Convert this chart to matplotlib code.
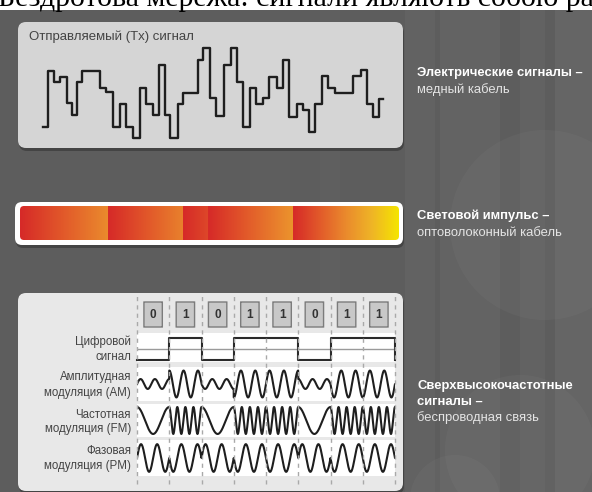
import numpy as np
import matplotlib

matplotlib.use("Agg")
import matplotlib.pyplot as plt
from matplotlib.patches import FancyBboxPatch, Rectangle, Circle
from matplotlib.colors import LinearSegmentedColormap

plt.rcParams["font.family"] = ["Liberation Sans", "DejaVu Sans"]

W, H = 592, 492

# =========================
# Data
# =========================
TITLE = "Бездротова мережа: сигнали являють собою ра"
TX_LABEL = "Отправляемый (Tx) сигнал"

# copper signal: start time of each step and its level
TX_TIMES = [0, 5, 11, 17, 24, 29, 34, 39, 57, 63,
            70, 77, 83, 90, 97, 103, 110, 116, 122, 127,
            135, 140, 155, 160, 167, 173, 181, 188, 194, 200,
            207, 213, 220, 226, 234, 240, 246, 254, 260, 266,
            272, 279, 285, 292, 310, 318, 324, 330, 336]
TX_LEVELS = [11, 67, 56, 61, 35, 23, 56, 67, 50, 46,
             11, 34, 11, 0, 50, 34, 23, 73, 23, 0,
             34, 45, 78, 90, 40, 22, 73, 90, 56, 11,
             50, 34, 40, 61, 50, 78, 21, 34, 28, 6,
             34, 62, 50, 45, 62, 68, 34, 21, 39]
TX_END = 340

# fibre: pulse boundaries along the bar and intensity reached at the end of each pulse
PULSE_EDGES = [0, 88, 163, 188, 273, 379]
PULSE_PEAK = [0.5, 0.45, 0.15, 0.55, 1.0]

# wireless
BITS = [0, 1, 0, 1, 1, 0, 1, 1]
AM_AMPL = {0: 0.35, 1: 0.95}
AM_CYCLES = 2.25
FM_CYCLES = {0: 1, 1: 4}
PM_CYCLES = 2

ROW_LABELS = [
    ("Цифровой", "сигнал"),
    ("Амплитудная", "модуляция (AM)"),
    ("Частотная", "модуляция (FM)"),
    ("Фазовая", "модуляция (PM)"),
]
SIDE_LABELS = [
    (["Электрические сигналы –"], "медный кабель"),
    (["Световой импульс –"], "оптоволоконный кабель"),
    (["Сверхвысокочастотные", "сигналы –"], "беспроводная связь"),
]


def px_axes(fig, x0, y0, x1, y1):
    return fig.add_axes([x0 / W, 1 - y1 / H, (x1 - x0) / W, (y1 - y0) / H])


def panel(ax, x0, y0, x1, y1, color, r=8, shadow=True):
    if shadow:
        ax.add_patch(FancyBboxPatch((x0 + 1, y0 + 3), x1 - x0, y1 - y0,
                                    boxstyle=f"round,pad=0,rounding_size={r}",
                                    fc="#262626", ec="none", alpha=0.45))
    p = FancyBboxPatch((x0, y0), x1 - x0, y1 - y0,
                       boxstyle=f"round,pad=0,rounding_size={r}",
                       fc=color, ec="none")
    ax.add_patch(p)
    return p


def main() -> None:
    fig = plt.figure(figsize=(W / 100, H / 100), dpi=100)

    bg = fig.add_axes([0, 0, 1, 1])
    bg.set_xlim(0, W)
    bg.set_ylim(H, 0)
    bg.axis("off")

    # dark backdrop with soft streaks
    bg.add_patch(Rectangle((0, 10), W, H - 10, fc="#5d5d5d", ec="none"))
    for x0, w, a in [(250, 40, 0.012), (320, 20, 0.015), (405, 30, 0.03),
                     (440, 60, 0.04), (520, 25, 0.035), (555, 37, 0.05)]:
        bg.add_patch(Rectangle((x0, 10), w, H - 10, fc="white", ec="none", alpha=a))
    for cx, cy, r in [(545, 225, 95), (520, 450, 75), (455, 500, 45)]:
        bg.add_patch(Circle((cx, cy), r, fc="white", ec="none", alpha=0.03))

    fig.text(-0.003, 1 - 5.7 / H, TITLE, fontsize=21.5, va="baseline", ha="left",
             family=["Liberation Serif", "DejaVu Serif"], color="black")

    # ---- copper panel ----
    panel(bg, 18, 22, 403, 148, "#d5d5d5")
    bg.text(29, 37, TX_LABEL, fontsize=9.5, color="#444444", va="center")

    ax_tx = px_axes(fig, 43, 48, 383, 138)
    ax_tx.step(TX_TIMES + [TX_END], TX_LEVELS + [TX_LEVELS[-1]], where="post",
               color="#1e1e1e", lw=1.7, clip_on=False)
    ax_tx.set_xlim(0, TX_END)
    ax_tx.set_ylim(0, 90)
    ax_tx.axis("off")

    # ---- fibre bar ----
    panel(bg, 15, 202, 403, 245, "white", r=7)
    clip = FancyBboxPatch((20, 206), 379, 34, boxstyle="round,pad=0,rounding_size=4",
                          fc="none", ec="none")
    bg.add_patch(clip)
    cmap = LinearSegmentedColormap.from_list(
        "light", ["#d62a28", "#e25a2a", "#ea8a2d", "#efb526", "#f5e400"])
    strip = []
    for (a, b), peak in zip(zip(PULSE_EDGES[:-1], PULSE_EDGES[1:]), PULSE_PEAK):
        strip.extend(np.linspace(0, peak, b - a))
    ax_bar = px_axes(fig, 20, 206, 399, 240)
    im = ax_bar.imshow(np.array(strip)[None, :], cmap=cmap, vmin=0, vmax=1,
                       aspect="auto", extent=(0, PULSE_EDGES[-1], 0, 1))
    im.set_clip_path(clip)
    ax_bar.axis("off")

    # ---- wireless panel ----
    panel(bg, 18, 293, 403, 491, "#e8e8e8")
    n = len(BITS)
    t = np.linspace(0, n, 4000, endpoint=False)
    idx = np.floor(t).astype(int)
    b = np.array(BITS)[idx]

    rows = [(333, 362), (367, 401), (404, 437), (440, 476)]
    row_axes = []
    for (y0, y1) in rows:
        ax = px_axes(fig, 137, y0, 395, y1)
        ax.set_facecolor("white")
        ax.set_xlim(0, n)
        ax.set_xticks([])
        ax.set_yticks([])
        for s in ax.spines.values():
            s.set_visible(False)
        row_axes.append(ax)

    # digital
    ax = row_axes[0]
    ax.axhline(0.5, color="#9a9a9a", lw=1)
    ax.step(list(range(n)) + [n, n], BITS + [BITS[-1], 0], where="post",
            color="#2a2a2a", lw=1.5, clip_on=False)
    ax.set_ylim(-0.09, 1.23)

    # AM
    am_amp = np.array([AM_AMPL[v] for v in b])
    row_axes[1].plot(t, am_amp * np.sin(2 * np.pi * AM_CYCLES * t), color="#1e1e1e", lw=1.5)
    row_axes[1].set_ylim(-1.2, 1.2)

    # FM (phase continuous)
    cyc = np.array([FM_CYCLES[v] for v in BITS])
    start = np.concatenate([[0], np.cumsum(cyc)[:-1]])
    phase = start[idx] + cyc[idx] * (t - idx)
    row_axes[2].plot(t, 0.98 * np.cos(2 * np.pi * phase), color="#1e1e1e", lw=1.5)
    row_axes[2].set_ylim(-1.2, 1.2)

    # PM
    row_axes[3].plot(t, np.sin(2 * np.pi * PM_CYCLES * t + np.pi * b), color="#1e1e1e", lw=1.5)
    row_axes[3].set_ylim(-1.3, 1.3)

    # overlay: dashed cell borders + bit boxes
    ov = px_axes(fig, 137, 296, 395, 484)
    ov.set_zorder(5)
    ov.patch.set_visible(False)
    ov.set_xlim(0, n)
    ov.set_ylim(484, 296)
    ov.axis("off")
    for k in range(n + 1):
        ov.axvline(k, color="#a9a9a9", lw=1, dashes=(3, 3), clip_on=False)
    for k, bit in enumerate(BITS):
        ov.add_patch(FancyBboxPatch((k + 0.5 - 0.285, 302), 0.57, 25,
                                    boxstyle="round,pad=0,rounding_size=0.05",
                                    fc="#c8c8c8", ec="#7c7c7c", lw=1))
        ov.text(k + 0.5, 315, str(bit), ha="center", va="center",
                fontsize=8.5, fontweight="bold", color="#333333")

    label_y = [(342, 357.5), (377, 393), (414.5, 429), (451.5, 466)]
    for (l1, l2), (y1, y2) in zip(ROW_LABELS, label_y):
        bg.text(131, y1, l1, ha="right", va="center", fontsize=8.3, color="#444444")
        bg.text(131, y2, l2, ha="right", va="center", fontsize=8.3, color="#444444")

    # side captions
    side_y = [(73, 90), (216, 233), (386, 418)]
    for (bold_lines, normal), (yb, yn) in zip(SIDE_LABELS, side_y):
        for i, line in enumerate(bold_lines):
            bg.text(417, yb + 16 * i, line, fontsize=9.4, fontweight="bold",
                    color="white", va="center")
        bg.text(417, yn, normal, fontsize=9.4, color="#e4e4e4", va="center")

    fig.savefig("out.png", dpi=100)
    plt.close(fig)


if __name__ == "__main__":
    main()
